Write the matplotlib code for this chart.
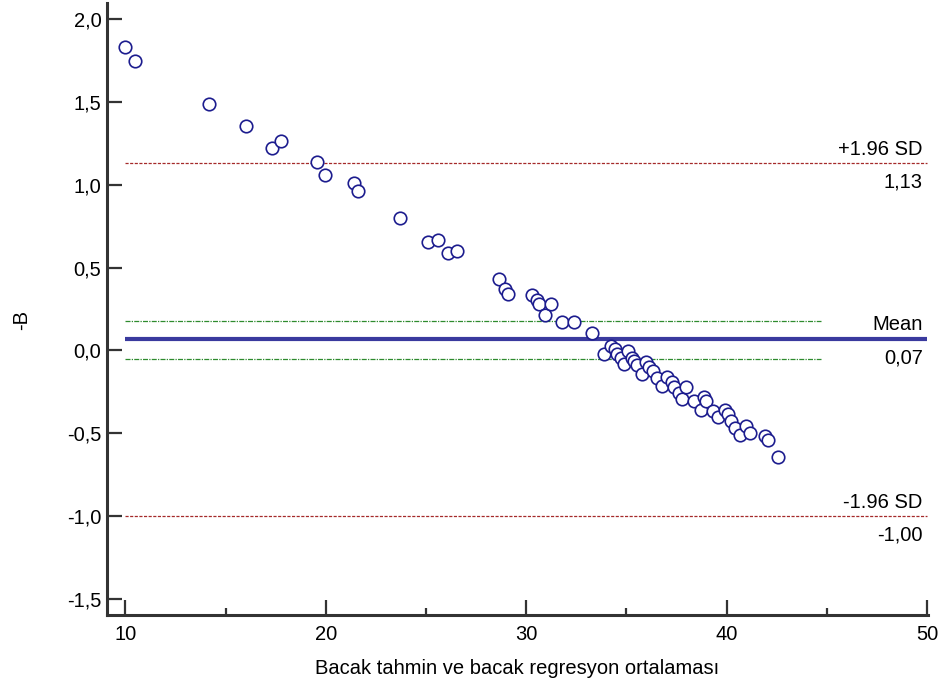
import matplotlib.pyplot as plt
from matplotlib.ticker import FuncFormatter, MultipleLocator

plt.rcParams['font.family'] = ['Liberation Sans', 'DejaVu Sans']

# average of the two measurements (x) and their difference (y)
avg = [9.98, 10.47, 14.17, 16.02, 17.31, 17.76, 19.56, 19.96, 21.41, 21.61,
       23.70, 25.10, 25.60, 26.10, 26.55, 28.65, 28.95, 29.10, 30.29, 30.54,
       30.64, 30.94, 31.24, 31.79, 32.39, 33.29,
       33.89, 34.24, 34.44, 34.54, 34.74, 34.89, 35.09, 35.29, 35.39, 35.54,
       35.79, 35.99, 36.14, 36.34, 36.54, 36.79, 37.03, 37.28, 37.38, 37.63,
       37.78, 37.98, 38.38, 38.73, 38.88, 38.98, 39.33, 39.58, 39.93, 40.08,
       40.23, 40.43, 40.68, 40.98, 41.18, 41.93, 42.08, 42.58]
diff = [1.831, 1.745, 1.487, 1.355, 1.222, 1.264, 1.137, 1.058, 1.010, 0.962,
        0.799, 0.654, 0.666, 0.588, 0.600, 0.431, 0.371, 0.340, 0.334, 0.304,
        0.280, 0.214, 0.280, 0.172, 0.172, 0.105,
        -0.022, 0.027, 0.008, -0.022, -0.046, -0.082, -0.004, -0.046, -0.064, -0.088,
        -0.142, -0.070, -0.100, -0.124, -0.167, -0.215, -0.161, -0.191, -0.221, -0.257,
        -0.293, -0.221, -0.305, -0.360, -0.281, -0.305, -0.366, -0.402, -0.360, -0.384,
        -0.426, -0.468, -0.511, -0.456, -0.498, -0.517, -0.541, -0.643]

mean_diff = 0.07
upper_loa = 1.13
lower_loa = -1.00
mean_ci = [0.177, -0.052]
ci_end = 44.7

fs = 14.5

fig = plt.figure(figsize=(9.41, 6.89), dpi=100)
ax = fig.add_axes([0.1137, 0.1074, 0.8725, 0.8882])

ax.hlines([upper_loa, lower_loa], 10, 50, colors='#a52a2a', linestyles=(0, (2.5, 1.2)), lw=0.9)
ax.hlines(mean_ci, 10, ci_end, colors='#2e8b2e', linestyles=(0, (4, 1, 1, 1)), lw=0.9)
ax.hlines(mean_diff, 10, 50, colors='#3a3a9e', lw=3.0)

ax.plot(avg, diff, 'o', ms=9, mfc='white', mec='#1c1c8e', mew=1.2, zorder=3)

labels = [(upper_loa, '+1.96 SD', '1,13'),
          (mean_diff, 'Mean', '0,07'),
          (lower_loa, '-1.96 SD', '-1,00')]
for yv, top, bottom in labels:
    ax.annotate(top, (50, yv), xytext=(-3, 10), textcoords='offset points',
                ha='right', va='center', fontsize=fs)
    ax.annotate(bottom, (50, yv), xytext=(-3, -13.5), textcoords='offset points',
                ha='right', va='center', fontsize=fs)

ax.set_xlim(9.08, 50.05)
ax.set_ylim(-1.597, 2.097)
ax.xaxis.set_major_locator(MultipleLocator(10))
ax.xaxis.set_minor_locator(MultipleLocator(5))
ax.yaxis.set_major_locator(MultipleLocator(0.5))
ax.yaxis.set_major_formatter(FuncFormatter(lambda v, p: f'{v:.1f}'.replace('.', ',')))

for side in ['top', 'right']:
    ax.spines[side].set_visible(False)
for side in ['left', 'bottom']:
    ax.spines[side].set_linewidth(2.2)
    ax.spines[side].set_color('#333333')

ax.tick_params(which='major', direction='in', length=11, width=1.6, color='#333333',
               labelsize=fs, pad=4)
ax.tick_params(axis='x', which='major', pad=7)
ax.tick_params(which='minor', direction='in', length=5, width=1.6, color='#333333')

ax.set_xlabel('Bacak tahmin ve bacak regresyon ortalaması', fontsize=fs, labelpad=11)
ax.set_ylabel('-B', fontsize=fs)
ax.yaxis.set_label_coords(-0.092, 0.482)

fig.savefig('out.png', dpi=100)
